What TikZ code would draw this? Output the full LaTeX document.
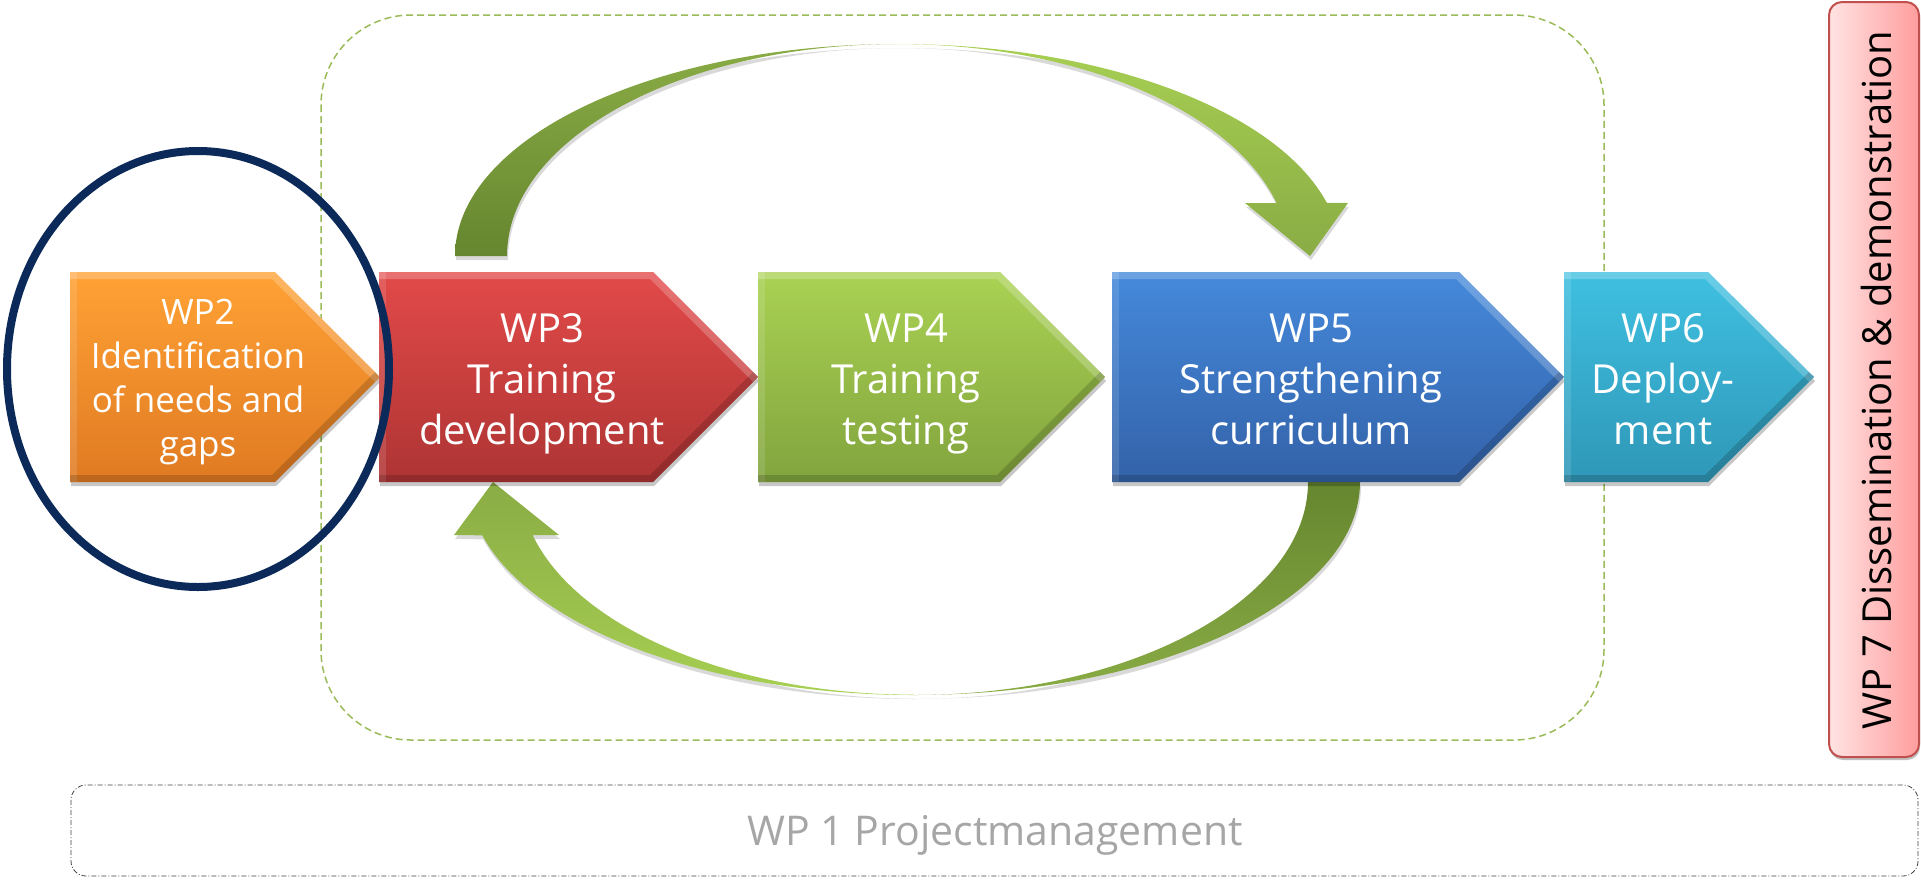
\documentclass[tikz,border=0pt]{standalone}
\usepackage{fontspec}
\setmainfont{Open Sans}
\usetikzlibrary{shadows}
\definecolor{framegreen}{HTML}{9BBB59}
\definecolor{navy}{HTML}{0B2A5A}
\definecolor{orT}{HTML}{FFA235}\definecolor{orB}{HTML}{E07A22}
\definecolor{rdT}{HTML}{E24A49}\definecolor{rdB}{HTML}{AE3434}
\definecolor{gnT}{HTML}{AAD253}\definecolor{gnB}{HTML}{82A43E}
\definecolor{blT}{HTML}{4589DB}\definecolor{blB}{HTML}{3362A8}
\definecolor{cyT}{HTML}{3FC0E1}\definecolor{cyB}{HTML}{2F97B7}
\definecolor{arcDark}{HTML}{66862F}\definecolor{arcMid}{HTML}{8AAC45}
\definecolor{arcLight}{HTML}{A7CF52}
\definecolor{pinkL}{HTML}{FFE3E3}\definecolor{pinkR}{HTML}{FF9D9D}
\definecolor{pinkBorder}{HTML}{C0504D}
\definecolor{wpgray}{HTML}{A6A6A6}
\definecolor{dashgray}{HTML}{404040}
\newcommand\wpshape[5]{%
  \path[wpfill, top color=#4, bottom color=#5] (#1,272) -- (#2,272) -- (#3,377) -- (#2,482) -- (#1,482) -- cycle;
  \begin{scope}
    \clip (#1,272) -- (#2,272) -- (#3,377) -- (#2,482) -- (#1,482) -- cycle;
    \draw[white, opacity=.22, line width=14pt, line join=miter] (#1,272) -- (#2,272) -- (#3,377);
    \draw[white, opacity=.12, line width=14pt] (#1,272) -- (#1,482);
    \draw[black, opacity=.16, line width=14pt, line join=miter] (#3,377) -- (#2,482) -- (#1,482);
  \end{scope}
}
\begin{document}
\begin{tikzpicture}[x=1pt,y=-1pt,
  frame/.style={draw=framegreen, line width=1.5pt, dash pattern=on 7pt off 4pt, rounded corners=90pt},
  wpfill/.style={drop shadow={shadow xshift=1pt, shadow yshift=-4pt, opacity=.22, fill=black}},
  arcfill/.style={drop shadow={shadow xshift=1pt, shadow yshift=-4pt, opacity=.15, fill=black}},
  wptext/.style={text=white, align=center, inner sep=0pt, anchor=base, font=\fontsize{40pt}{51pt}\selectfont},
  wpsmall/.style={wptext, font=\fontsize{35pt}{44pt}\selectfont},
  pmbox/.style={draw=dashgray, line width=0.8pt, dash pattern=on 5pt off 2pt on 1pt off 2pt, rounded corners=15pt},
  dissbox/.style={draw=pinkBorder, line width=2pt, rounded corners=13pt, left color=pinkL, right color=pinkR,
    drop shadow={shadow xshift=1pt, shadow yshift=-3pt, opacity=.25, fill=black}},
  ring/.style={draw=navy, line width=8pt}
]
\useasboundingbox (0,0) rectangle (1921,879);

% dashed frame around WP3-WP5
\draw[frame] (321,15) rectangle (1604,740);

% upper curved arrow (WP3 -> WP5)
\path[arcfill, top color=arcMid, bottom color=arcDark]
  (455,256) arc[start angle=180, end angle=270, x radius=443, y radius=212]
  arc[start angle=270, end angle=180, x radius=391, y radius=212] -- cycle;
\path[arcfill, top color=arcLight, bottom color=arcMid]
  (898,44) arc[start angle=270, end angle=345.5, x radius=443, y radius=212]
  -- (1348,203) -- (1310,256) -- (1245,203) -- (1276.5,203)
  arc[start angle=345.5, end angle=270, x radius=391, y radius=212] -- cycle;

% lower curved arrow (WP5 -> WP3)
\path[arcfill, top color=arcDark, bottom color=arcMid]
  (1360,482) arc[start angle=0, end angle=90, x radius=446, y radius=213]
  arc[start angle=90, end angle=0, x radius=394, y radius=213] -- cycle;
\path[arcfill, top color=arcMid, bottom color=arcLight]
  (914,695) arc[start angle=90, end angle=165.5, x radius=446, y radius=213]
  -- (454,535) -- (493,482) -- (559,535) -- (532.6,535)
  arc[start angle=165.5, end angle=90, x radius=394, y radius=213] -- cycle;

% work package chevrons
\wpshape{70}{275}{380}{orT}{orB}
\wpshape{379}{653}{758}{rdT}{rdB}
\wpshape{758}{1000}{1105}{gnT}{gnB}
\wpshape{1112}{1459}{1564}{blT}{blB}
\wpshape{1564}{1708}{1814}{cyT}{cyB}

% (anchor=base of a multi-line node = baseline of its last line)
\node[wpsmall] (wp2) at (198,456) {WP2\\Identification\\of needs and\\gaps};
\node[wptext] (wp3) at (542,444) {WP3\\Training\\development};
\node[wptext] (wp4) at (906,444) {WP4\\Training\\testing};
\node[wptext] (wp5) at (1311,444) {WP5\\Strengthening\\curriculum};
\node[wptext] (wp6) at (1663,444) {WP6\\Deploy-\\ment};

% ring around WP2
\draw[ring] (198,369) ellipse [x radius=191, y radius=218];

% WP7
\path[dissbox] (1829,2) rectangle (1919,757);
\node[rotate=90, anchor=base, inner sep=0pt, font=\fontsize{40pt}{48pt}\selectfont] (wp7) at (1891,380) {WP 7 Dissemination \& demonstration};

% WP1
\draw[pmbox] (71,785) rectangle (1918,876);
\node[anchor=base, inner sep=0pt, text=wpgray, font=\fontsize{41pt}{48pt}\selectfont] (wp1) at (995,845) {WP 1 Projectmanagement};
\end{tikzpicture}
\end{document}
